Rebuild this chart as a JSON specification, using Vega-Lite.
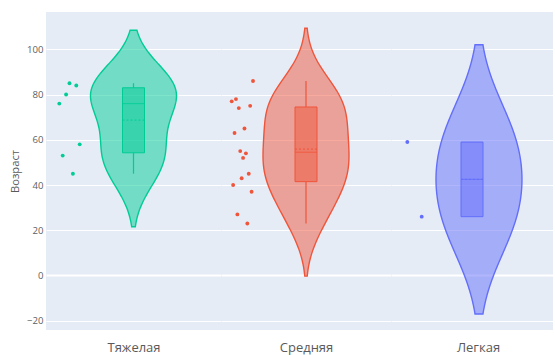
{
  "$schema": "https://vega.github.io/schema/vega-lite/v6.json",
  "background": "#FFFFFF",
  "padding": {"left": 9, "top": 12, "right": 0, "bottom": 0},
  "spacing": 0,
  "config": {
    "view": {"fill": "#E5ECF6", "stroke": null},
    "font": "Open Sans",
    "axis": {
      "domain": false,
      "ticks": false,
      "labelFont": "Open Sans",
      "titleFont": "Open Sans",
      "labelColor": "#606060",
      "titleColor": "#5a5a5a",
      "titleFontWeight": "normal",
      "gridColor": "#FFFFFF"
    }
  },
  "datasets": {
    "patients": [
      {"grp": "Тяжелая", "age": 76},
      {"grp": "Тяжелая", "age": 53},
      {"grp": "Тяжелая", "age": 80},
      {"grp": "Тяжелая", "age": 85},
      {"grp": "Тяжелая", "age": 45},
      {"grp": "Тяжелая", "age": 84},
      {"grp": "Тяжелая", "age": 58},
      {"grp": "Средняя", "age": 77},
      {"grp": "Средняя", "age": 40},
      {"grp": "Средняя", "age": 63},
      {"grp": "Средняя", "age": 78},
      {"grp": "Средняя", "age": 27},
      {"grp": "Средняя", "age": 74},
      {"grp": "Средняя", "age": 55},
      {"grp": "Средняя", "age": 43},
      {"grp": "Средняя", "age": 52},
      {"grp": "Средняя", "age": 65},
      {"grp": "Средняя", "age": 54},
      {"grp": "Средняя", "age": 23},
      {"grp": "Средняя", "age": 45},
      {"grp": "Средняя", "age": 75},
      {"grp": "Средняя", "age": 37},
      {"grp": "Средняя", "age": 86},
      {"grp": "Легкая", "age": 59},
      {"grp": "Легкая", "age": 26}
    ],
    "boxes": [
      {"grp": "Тяжелая", "lo": 45, "q1": 54.25, "median": 76, "q3": 83, "hi": 85, "mean": 68.71},
      {"grp": "Средняя", "lo": 23, "q1": 41.5, "median": 54.5, "q3": 74.5, "hi": 86, "mean": 55.88},
      {"grp": "Легкая", "lo": 26, "q1": 26, "median": 42.5, "q3": 59, "hi": 59, "mean": 42.5}
    ]
  },
  "hconcat": [
    {
      "width": 175,
      "height": 318,
      "resolve": {"scale": {"x": "independent"}, "axis": {"x": "independent"}},
      "layer": [
        {
          "data": {"name": "patients"},
          "transform": [
            {"filter": "datum.grp === 'Тяжелая'"},
            {"density": "age", "bandwidth": 11.731, "extent": [21.54, 108.46], "steps": 200}
          ],
          "mark": {"type": "area", "orient": "horizontal", "fill": "#00CC96", "fillOpacity": 0.5, "stroke": "#00CC96", "strokeWidth": 1.4},
          "encoding": {
            "y": {"field": "value", "type": "quantitative", "title": "Возраст",
              "scale": {"domain": [-24.1, 116.5], "nice": false, "zero": false},
              "axis": {"values": [-20, 0, 20, 40, 60, 80, 100], "labelFontSize": 9.6, "labelPadding": 3, "titleFontSize": 11.2, "titlePadding": 6, "grid": true,
                "gridWidth": {"condition": {"test": "datum.value === 0", "value": 2}, "value": 1}}},
            "x": {"field": "density", "type": "quantitative", "stack": "center", "impute": null,
              "scale": {"nice": false, "zero": false, "padding": 44.5},
              "axis": {"title": "Тяжелая", "labels": false, "grid": false, "titleFontSize": 13, "titlePadding": 11.5, "minExtent": 0, "maxExtent": 0}}
          }
        },
        {
          "data": {"name": "boxes"},
          "transform": [{"filter": "datum.grp === 'Тяжелая'"}],
          "layer": [
            {"mark": {"type": "rule", "color": "#00CC96", "strokeWidth": 1.2},
             "encoding": {"y": {"field": "lo", "type": "quantitative", "title": "Возраст"}, "y2": {"field": "q1"}}},
            {"mark": {"type": "rule", "color": "#00CC96", "strokeWidth": 1.2},
             "encoding": {"y": {"field": "q3", "type": "quantitative", "title": "Возраст"}, "y2": {"field": "hi"}}},
            {"mark": {"type": "bar", "size": 22, "fill": "#00CC96", "fillOpacity": 0.5, "stroke": "#00CC96", "strokeWidth": 1},
             "encoding": {"y": {"field": "q1", "type": "quantitative", "title": "Возраст"}, "y2": {"field": "q3"}}},
            {"mark": {"type": "tick", "size": 22, "thickness": 1.2, "color": "#00CC96"},
             "encoding": {"y": {"field": "median", "type": "quantitative", "title": "Возраст"}}},
            {"mark": {"type": "point", "shape": "M-1,0L1,0", "size": 484, "filled": false, "stroke": "#00CC96", "strokeWidth": 1, "strokeDash": [2, 2], "opacity": 1},
             "encoding": {"y": {"field": "mean", "type": "quantitative", "title": "Возраст"}}}
          ]
        },
        {
          "data": {"name": "patients"},
          "transform": [
            {"filter": "datum.grp === 'Тяжелая'"},
            {"window": [{"op": "row_number", "as": "k"}]}
          ],
          "mark": {"type": "circle", "size": 15, "color": "#00CC96", "opacity": 1},
          "encoding": {
            "y": {"field": "age", "type": "quantitative", "title": "Возраст"},
            "x": {"field": "k", "type": "quantitative", "scale": {"domain": [-2.912, 48.56], "nice": false, "zero": false}, "axis": null}
          }
        }
      ]
    },
    {
      "width": 170,
      "height": 318,
      "resolve": {"scale": {"x": "independent"}, "axis": {"x": "independent"}},
      "layer": [
        {
          "data": {"name": "patients"},
          "transform": [
            {"filter": "datum.grp === 'Средняя'"},
            {"density": "age", "bandwidth": 11.645, "extent": [-0.29, 109.29], "steps": 200}
          ],
          "mark": {"type": "area", "orient": "horizontal", "fill": "#EF553B", "fillOpacity": 0.5, "stroke": "#EF553B", "strokeWidth": 1.4},
          "encoding": {
            "y": {"field": "value", "type": "quantitative", "title": null,
              "scale": {"domain": [-24.1, 116.5], "nice": false, "zero": false},
              "axis": {"values": [-20, 0, 20, 40, 60, 80, 100], "labels": false, "grid": true, "minExtent": 0, "maxExtent": 0,
                "gridWidth": {"condition": {"test": "datum.value === 0", "value": 2}, "value": 1}}},
            "x": {"field": "density", "type": "quantitative", "stack": "center", "impute": null,
              "scale": {"nice": false, "zero": false, "padding": 42},
              "axis": {"title": "Средняя", "labels": false, "grid": false, "titleFontSize": 13, "titlePadding": 11.5, "minExtent": 0, "maxExtent": 0}}
          }
        },
        {
          "data": {"name": "boxes"},
          "transform": [{"filter": "datum.grp === 'Средняя'"}],
          "layer": [
            {"mark": {"type": "rule", "color": "#EF553B", "strokeWidth": 1.2},
             "encoding": {"y": {"field": "lo", "type": "quantitative", "title": null}, "y2": {"field": "q1"}}},
            {"mark": {"type": "rule", "color": "#EF553B", "strokeWidth": 1.2},
             "encoding": {"y": {"field": "q3", "type": "quantitative", "title": null}, "y2": {"field": "hi"}}},
            {"mark": {"type": "bar", "size": 22, "fill": "#EF553B", "fillOpacity": 0.5, "stroke": "#EF553B", "strokeWidth": 1},
             "encoding": {"y": {"field": "q1", "type": "quantitative", "title": null}, "y2": {"field": "q3"}}},
            {"mark": {"type": "tick", "size": 22, "thickness": 1.2, "color": "#EF553B"},
             "encoding": {"y": {"field": "median", "type": "quantitative", "title": null}}},
            {"mark": {"type": "point", "shape": "M-1,0L1,0", "size": 484, "filled": false, "stroke": "#EF553B", "strokeWidth": 1, "strokeDash": [2, 2], "opacity": 1},
             "encoding": {"y": {"field": "mean", "type": "quantitative", "title": null}}}
          ]
        },
        {
          "data": {"name": "patients"},
          "transform": [
            {"filter": "datum.grp === 'Средняя'"},
            {"window": [{"op": "row_number", "as": "k"}]}
          ],
          "mark": {"type": "circle", "size": 15, "color": "#EF553B", "opacity": 1},
          "encoding": {
            "y": {"field": "age", "type": "quantitative", "title": null},
            "x": {"field": "k", "type": "quantitative", "scale": {"domain": [-6.535, 113.18], "nice": false, "zero": false}, "axis": null}
          }
        }
      ]
    },
    {
      "width": 162,
      "height": 318,
      "resolve": {"scale": {"x": "independent"}, "axis": {"x": "independent"}},
      "layer": [
        {
          "data": {"name": "patients"},
          "transform": [
            {"filter": "datum.grp === 'Легкая'"},
            {"density": "age", "bandwidth": 21.513, "extent": [-17.03, 102.03], "steps": 200}
          ],
          "mark": {"type": "area", "orient": "horizontal", "fill": "#636EFA", "fillOpacity": 0.5, "stroke": "#636EFA", "strokeWidth": 1.4},
          "encoding": {
            "y": {"field": "value", "type": "quantitative", "title": null,
              "scale": {"domain": [-24.1, 116.5], "nice": false, "zero": false},
              "axis": {"values": [-20, 0, 20, 40, 60, 80, 100], "labels": false, "grid": true, "minExtent": 0, "maxExtent": 0,
                "gridWidth": {"condition": {"test": "datum.value === 0", "value": 2}, "value": 1}}},
            "x": {"field": "density", "type": "quantitative", "stack": "center", "impute": null,
              "scale": {"domain": [-0.007233, 0.018807], "nice": false, "zero": false},
              "axis": {"title": "Легкая", "labels": false, "grid": false, "titleFontSize": 13, "titlePadding": 11.5, "titleX": 87, "minExtent": 0, "maxExtent": 0}}
          }
        },
        {
          "data": {"name": "boxes"},
          "transform": [{"filter": "datum.grp === 'Легкая'"}],
          "layer": [
            {"mark": {"type": "rule", "color": "#636EFA", "strokeWidth": 1.2},
             "encoding": {"y": {"field": "lo", "type": "quantitative", "title": null}, "y2": {"field": "q1"}}},
            {"mark": {"type": "rule", "color": "#636EFA", "strokeWidth": 1.2},
             "encoding": {"y": {"field": "q3", "type": "quantitative", "title": null}, "y2": {"field": "hi"}}},
            {"mark": {"type": "bar", "size": 22, "fill": "#636EFA", "fillOpacity": 0.5, "stroke": "#636EFA", "strokeWidth": 1},
             "encoding": {"y": {"field": "q1", "type": "quantitative", "title": null}, "y2": {"field": "q3"}}},
            {"mark": {"type": "tick", "size": 22, "thickness": 1.2, "color": "#636EFA"},
             "encoding": {"y": {"field": "median", "type": "quantitative", "title": null}}},
            {"mark": {"type": "point", "shape": "M-1,0L1,0", "size": 484, "filled": false, "stroke": "#636EFA", "strokeWidth": 1, "strokeDash": [2, 2], "opacity": 1},
             "encoding": {"y": {"field": "mean", "type": "quantitative", "title": null}}}
          ]
        },
        {
          "data": {"name": "patients"},
          "transform": [
            {"filter": "datum.grp === 'Легкая'"},
            {"window": [{"op": "row_number", "as": "k"}]}
          ],
          "mark": {"type": "circle", "size": 15, "color": "#636EFA", "opacity": 1},
          "encoding": {
            "y": {"field": "age", "type": "quantitative", "title": null},
            "x": {"field": "k", "type": "quantitative", "scale": {"domain": [-0.132, 11.118], "nice": false, "zero": false}, "axis": null}
          }
        }
      ]
    }
  ]
}
